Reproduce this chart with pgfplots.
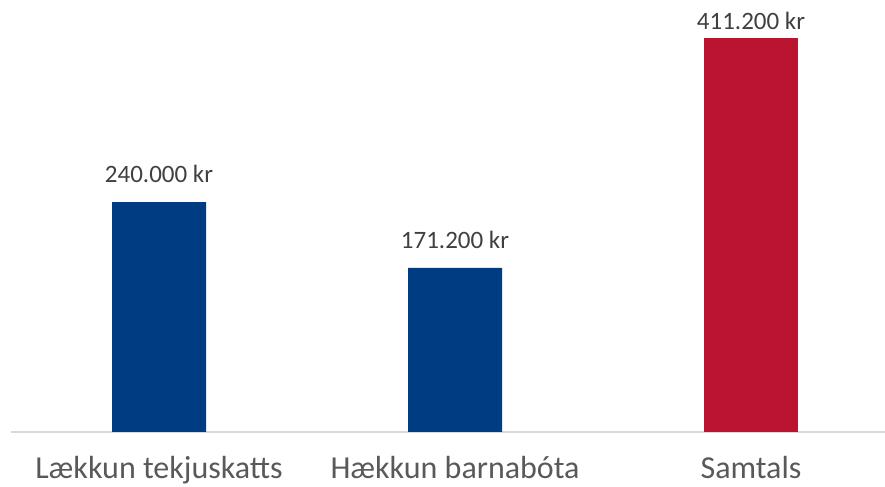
\documentclass[border=0pt]{standalone}
\usepackage{pgfplots}
\pgfplotsset{compat=1.18}
\usepackage{fontspec}
\setmainfont{Carlito}
\definecolor{barblue}{HTML}{003C82}
\definecolor{barred}{HTML}{BA1431}
\definecolor{axisgray}{HTML}{D9D9D9}
\definecolor{labgray}{HTML}{595959}
\definecolor{datgray}{HTML}{404040}
\begin{document}
\begin{tikzpicture}
\begin{axis}[
  at={(11bp,55bp)}, anchor=south west,
  scale only axis,
  width=874bp, height=432bp,
  xmin=-0.5, xmax=2.4527,
  ymin=0, ymax=450900,
  axis y line=none,
  axis x line*=bottom,
  x axis line style={draw=axisgray, line width=1.5bp, -},
  xtick={0,1,2},
  xticklabels={Lækkun tekjuskatts, Hækkun barnabóta, Samtals},
  major tick length=0pt,
  xticklabel style={font=\fontsize{32bp}{36bp}\selectfont, text=labgray, anchor=north, inner sep=0pt, yshift=-24bp},
  ybar, bar width=94bp, bar shift=0pt,
  clip=false,
  point meta=explicit symbolic,
  nodes near coords,
  nodes near coords style={font=\fontsize{25bp}{28bp}\selectfont, text=datgray, anchor=south, inner sep=0pt, yshift=19bp},
]
\addplot[fill=barblue, draw=none] coordinates {(0,240000) [240.000 kr] (1,171200) [171.200 kr]};
\addplot[fill=barred, draw=none, nodes near coords style={yshift=-11bp}] coordinates {(2,411200) [411.200 kr]};
\end{axis}
\pgfresetboundingbox
\path (0,0) rectangle (885bp,487bp);
\end{tikzpicture}
\end{document}
